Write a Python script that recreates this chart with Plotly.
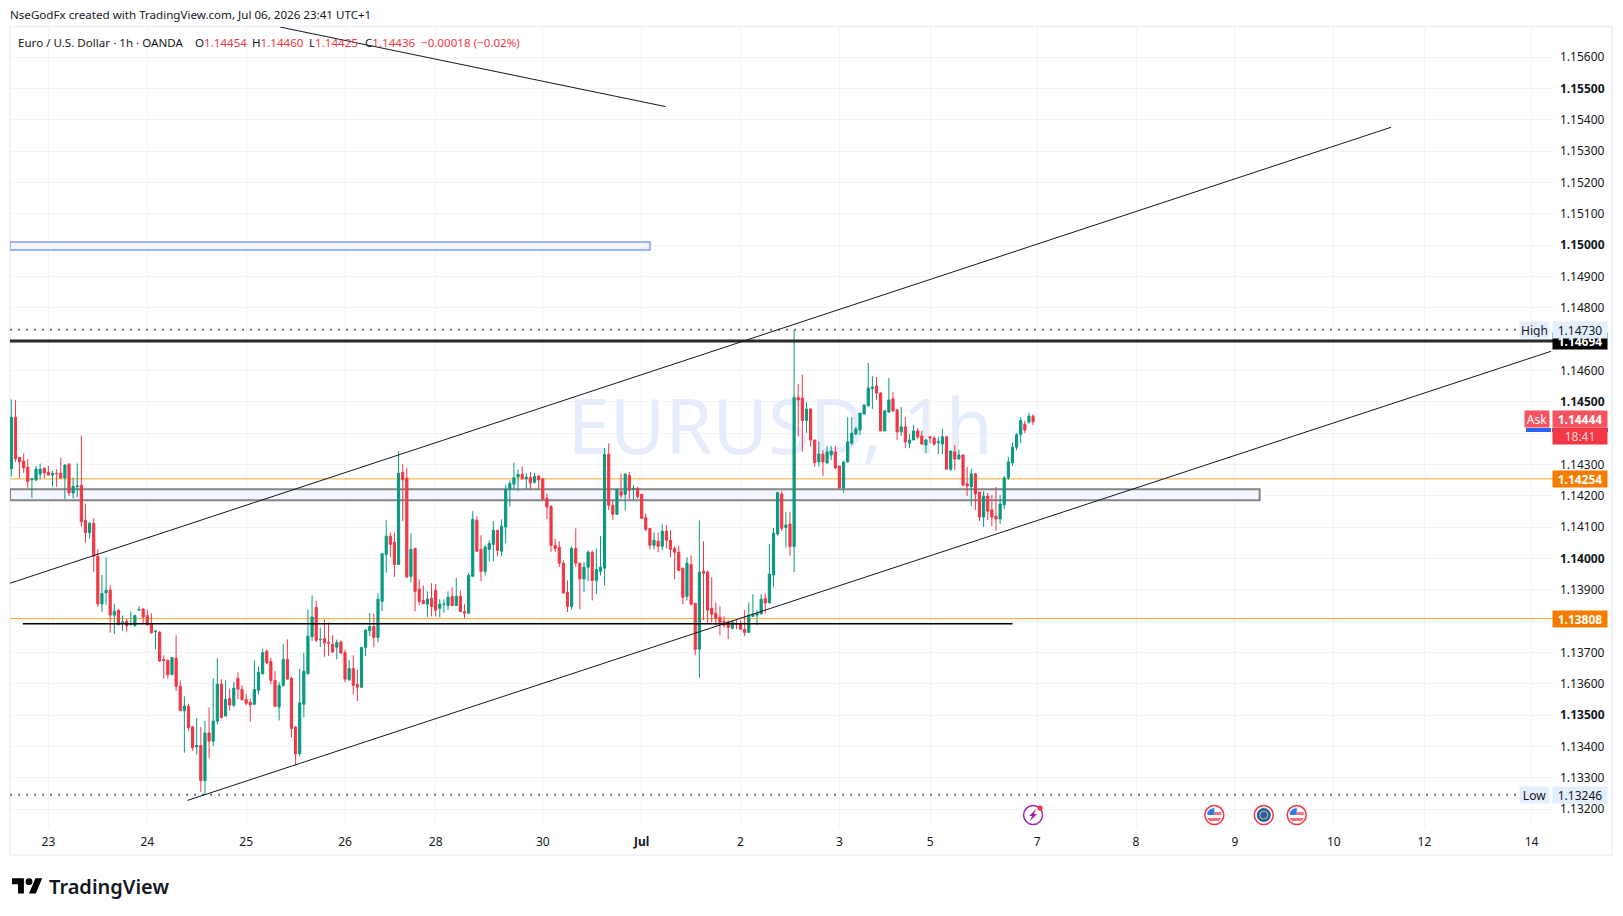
import plotly.graph_objects as go

### DATA (EURUSD 1h, prices in 1e-5 units)
opens = [
    114286,114451,114322,114311,114291,114251,114250,114269,114288,114275,
    114266,114272,114272,114257,114301,114209,114229,114233,114122,114082,
    114112,114007,113855,113890,113899,113819,113835,113794,113799,113789,
    113786,113835,113839,113818,113791,113766,113765,113677,113675,113629,
    113682,113592,113514,113529,113463,113399,113403,113291,113443,113417,
    113481,113599,113497,113553,113532,113617,113582,113550,113541,113535,
    113579,113632,113704,113671,113611,113526,113594,113678,113618,113462,
    113377,113535,113632,113750,113844,113741,113745,113732,113726,113717,
    113733,113700,113613,113649,113598,113589,113716,113769,113783,113748,
    113863,114013,114071,114052,113981,114275,114256,113943,114032,113902,
    113866,113854,113873,113898,113841,113853,113850,113879,113850,113879,
    113831,113825,113943,114122,114029,113959,114029,114045,114090,114023,
    114100,114221,114237,114260,114269,114254,114259,114243,114263,114254,
    114192,114166,114042,114036,113985,113892,113847,114032,113985,113935,
    113972,114020,113930,113959,113969,114332,114170,114141,114214,114205,
    114265,114220,114224,114205,114130,114096,114042,114055,114039,114087,
    114058,114032,114020,113969,113879,113981,113857,113710,113959,113956,
    113841,113825,113812,113799,113796,113777,113793,113790,113774,113764,
    113815,113819,113823,113873,113858,113947,114078,114206,114099,114110,
    114038,114514,114512,114440,114477,114378,114308,114333,114305,114330,
    114340,114295,114225,114308,114368,114397,114410,114461,114487,114542,
    114550,114528,114407,114467,114509,114474,114404,114420,114368,114378,
    114407,114391,114362,114388,114384,114369,114365,114388,114285,114340,
    114317,114330,114238,114229,114270,114212,114132,114199,114155,114135,
    114126,114171,114257,114305,114355,114395,114428,114435,114454,
]
highs = [
    114508,114505,114322,114335,114317,114257,114295,114303,114290,114295,
    114279,114285,114322,114300,114304,114258,114303,114392,114175,114116,
    114128,114029,113947,114003,113915,113856,113838,113818,113809,113831,
    113819,113848,113841,113837,113825,113771,113767,113691,113677,113684,
    113755,113611,113560,113537,113465,113491,113462,113481,113525,113618,
    113682,113615,113611,113585,113606,113637,113596,113567,113553,113675,
    113656,113712,113709,113683,113641,113606,113726,113742,113622,113465,
    113648,113699,113837,113882,113865,113779,113805,113796,113755,113741,
    113739,113709,113677,113691,113645,113717,113774,113826,113824,113889,
    114016,114122,114083,114083,114341,114301,114288,114080,114034,113933,
    113914,113895,113921,113918,113870,113870,113895,113908,113937,113898,
    113854,113953,114151,114134,114074,114042,114058,114119,114090,114125,
    114234,114249,114306,114284,114294,114273,114276,114273,114265,114255,
    114207,114170,114063,114055,113994,113930,114039,114096,113985,113988,
    114026,114026,114032,114071,114352,114367,114186,114223,114271,114271,
    114276,114234,114228,114205,114143,114096,114083,114083,114109,114106,
    114090,114039,114039,113969,114004,114010,113857,114122,114055,113962,
    113940,113860,113847,113815,113803,113803,113803,113803,113835,113860,
    113886,113835,113886,113888,114046,114097,114213,114215,114149,114149,
    114730,114557,114586,114499,114479,114378,114372,114346,114359,114359,
    114359,114295,114312,114451,114451,114420,114464,114490,114624,114582,
    114579,114531,114473,114576,114531,114477,114483,114451,114397,114426,
    114416,114407,114381,114389,114391,114388,114413,114391,114343,114362,
    114346,114333,114292,114286,114273,114212,114215,114209,114202,114228,
    114202,114263,114324,114370,114400,114451,114440,114465,114460,
]
lows = [
    114261,114308,114257,114273,114226,114193,114248,114253,114257,114265,
    114229,114229,114255,114190,114200,114192,114197,114101,114050,114063,
    113957,113846,113830,113852,113763,113759,113787,113769,113766,113787,
    113782,113835,113790,113787,113760,113710,113670,113617,113616,113628,
    113577,113513,113380,113450,113386,113374,113254,113246,113363,113401,
    113470,113490,113497,113514,113526,113551,113548,113532,113478,113532,
    113566,113630,113662,113598,113526,113483,113592,113613,113429,113340,
    113369,113493,113630,113737,113733,113717,113686,113688,113699,113678,
    113695,113605,113609,113566,113545,113587,113688,113752,113716,113733,
    113832,113954,114005,113941,113979,114119,113937,113924,113831,113851,
    113854,113813,113816,113815,113812,113826,113835,113847,113850,113829,
    113809,113825,113943,114021,113927,113946,113991,113991,114007,114007,
    114048,114166,114218,114215,114252,114221,114221,114239,114223,114188,
    114125,114021,114021,113973,113888,113829,113837,113973,113838,113892,
    113927,113866,113886,113946,113914,114154,114122,114141,114192,114154,
    114189,114189,114191,114126,114087,114029,114029,114020,114026,114032,
    114004,113933,113960,113854,113866,113850,113691,113618,113803,113790,
    113796,113787,113755,113779,113742,113774,113774,113773,113752,113764,
    113813,113787,113822,113824,113858,113909,114073,114088,114035,114009,
    113957,114389,114341,114401,114357,114293,114293,114263,114301,114314,
    114285,114222,114210,114306,114362,114394,114394,114458,114484,114477,
    114506,114407,114407,114464,114467,114378,114391,114352,114352,114378,
    114381,114362,114337,114367,114359,114333,114333,114285,114279,114282,
    114317,114231,114199,114167,114155,114119,114100,114123,114103,114088,
    114110,114158,114250,114295,114345,114368,114400,114430,114425,
]
closes = [
    114451,114318,114308,114289,114245,114254,114285,114285,114273,114266,
    114272,114270,114257,114298,114209,114230,114231,114117,114082,114112,
    114007,113855,113888,113899,113819,113831,113789,113797,113785,113792,
    113818,113837,113813,113788,113763,113768,113673,113675,113629,113684,
    113592,113514,113529,113460,113396,113403,113291,113443,113417,113481,
    113599,113492,113550,113532,113586,113583,113549,113538,113533,113582,
    113637,113699,113667,113611,113528,113595,113678,113615,113458,113376,
    113539,113640,113752,113813,113739,113742,113730,113730,113702,113732,
    113698,113615,113649,113595,113589,113716,113771,113783,113748,113870,
    114015,114071,114045,113981,114272,114251,113941,114029,113895,113863,
    113856,113870,113847,113835,113854,113854,113876,113850,113879,113831,
    113825,113946,114125,114023,113959,114036,114048,114090,114026,114103,
    114221,114239,114258,114268,114254,114259,114241,114262,114251,114189,
    114164,114042,114032,113985,113890,113847,114032,113985,113935,113972,
    114020,113930,113965,113972,114332,114170,114141,114220,114202,114269,
    114218,114224,114198,114128,114093,114042,114058,114039,114087,114058,
    114029,114020,113962,113876,113985,113854,113710,113956,113953,113835,
    113822,113809,113796,113787,113780,113796,113790,113774,113764,113819,
    113822,113824,113870,113858,113950,114081,114210,114096,114107,114038,
    114514,114506,114440,114477,114378,114306,114333,114308,114340,114343,
    114289,114225,114308,114372,114400,114413,114464,114490,114544,114547,
    114528,114407,114471,114506,114471,114404,114420,114372,114378,114407,
    114388,114365,114378,114385,114365,114372,114388,114285,114343,114317,
    114330,114234,114231,114270,114206,114132,114199,114151,114132,114126,
    114174,114257,114308,114355,114395,114440,114410,114454,114436,
]

# time axis
date_bars = [9, 33, 57, 81, 103, 129, 153, 177, 201, 223, 249, 273, 297, 321, 343, 369]
date_labels = ["23", "24", "25", "26", "28", "30", "<b>Jul</b>", "2", "3", "5", "7", "8", "9", "10", "12", "14"]

# price axis
price_ticks = [1.132 + i * 0.001 for i in range(25)]
hidden_ticks = ["1.14700", "1.14400", "1.13800"]
bold_ticks = ["1.15500", "1.15000", "1.14500", "1.14000", "1.13500"]

# drawings
high_price, low_price = 1.14730, 1.13246
level_black = 1.14694
level_ask = 1.14444
level_orange = [1.14254, 1.13808]
support_price = 1.13792
support_bars = [2.8, 243]
channel_up_bars, channel_up_prices = [-0.32, 334.9], [1.13921, 1.15376]
channel_low_bars, channel_low_prices = [42.8, 373.7], [1.13228, 1.14661]
top_line_bars, top_line_prices = [65.2, 158.8], [1.15696, 1.15442]
blue_box_bars, blue_box_prices = [-0.32, 155], [1.14984, 1.15010]
grey_box_bars, grey_box_prices = [-0.32, 303], [1.14186, 1.14221]
event_bars_us = [292, 312]
event_bar_eu = 304
event_bar_bolt = 248
event_price = 1.13181

GREEN, RED = "#089981", "#F23645"
ORANGE, TAG_ORANGE = "#FFA726", "#F57C00"
TEXT = "#131722"
GRID = "#F2F3F6"
FONT = "Noto Sans"

# plot box in page pixels
LEFT, RIGHT, TOP, BOTTOM = 10, 1553, 27, 827
X_RANGE = [-0.32, 374.2]
Y_RANGE = [1.13143, 1.15696]


def pts(values):
    return [v / 100000 for v in values]


def px(x):
    return (x - LEFT) / (RIGHT - LEFT)


def py(y):
    return (BOTTOM - y) / (BOTTOM - TOP)


fig = go.Figure()

### BELOW CANDLES (x / y)
fig.add_trace(go.Scatter(x=[186.6], y=[1.14395], mode="text", text=["EURUSD, 1h"],
                         textfont=dict(family=FONT, size=76, color="#E6ECFC"), hoverinfo="skip"))

for bars, prices, line_col, fill_col in [(blue_box_bars, blue_box_prices, "#9DB4FA", "#F3F6FE"),
                                         (grey_box_bars, grey_box_prices, "#858585", "#F3F6FE")]:
    fig.add_trace(go.Scatter(x=[bars[0], bars[1], bars[1], bars[0], bars[0]],
                             y=[prices[0], prices[0], prices[1], prices[1], prices[0]],
                             mode="lines", fill="toself", fillcolor=fill_col,
                             line=dict(color=line_col, width=2), hoverinfo="skip"))

for level in level_orange:
    fig.add_trace(go.Scatter(x=X_RANGE, y=[level, level], mode="lines",
                             line=dict(color=ORANGE, width=1), hoverinfo="skip"))

### CANDLES + LINES ON TOP (x2 / y2)
fig.add_trace(go.Candlestick(x=list(range(len(opens))), open=pts(opens), high=pts(highs), low=pts(lows),
                             close=pts(closes), xaxis="x2", yaxis="y2", whiskerwidth=0,
                             increasing=dict(line=dict(color=GREEN, width=1), fillcolor=GREEN),
                             decreasing=dict(line=dict(color=RED, width=1), fillcolor=RED),
                             hoverinfo="skip"))

for bars, prices, col, width, dash in [
    (X_RANGE, [high_price, high_price], "#6F7380", 2, "2px,6px"),
    (X_RANGE, [low_price, low_price], "#6F7380", 2, "2px,6px"),
    (X_RANGE, [level_black, level_black], "#2A2A2A", 3, "solid"),
    (support_bars, [support_price, support_price], "#000000", 1.5, "solid"),
    (channel_up_bars, channel_up_prices, "#131722", 1, "solid"),
    (channel_low_bars, channel_low_prices, "#131722", 1, "solid"),
    (top_line_bars, top_line_prices, "#131722", 1, "solid"),
]:
    fig.add_trace(go.Scatter(x=bars, y=prices, mode="lines", xaxis="x2", yaxis="y2",
                             line=dict(color=col, width=width, dash=dash), hoverinfo="skip"))


### TEXT
def add_text(x, y, text, size=11.6, color=TEXT, weight=None):
    fig.add_annotation(x=px(x), y=py(y), xref="paper", yref="paper", text=text, showarrow=False,
                       xanchor="left", yanchor="middle",
                       font=dict(family=FONT, size=size, color=color, weight=weight))


add_text(8, 14.5, "NseGodFx created with TradingView.com, Jul 06, 2026 23:41 UTC+1")
add_text(16, 42, "Euro / U.S. Dollar · 1h · OANDA")
for x, key, val in [(193, "O", "1.14454"), (250, "H", "1.14460"), (307, "L", "1.14425"), (363, "C", "1.14436")]:
    add_text(x, 42, f'{key}<span style="color:{RED}">{val}</span>')
add_text(419, 42, "−0.00018 (−0.02%)", color=RED)
add_text(47, 886, "TradingView", 20, "#131722", 600)


### PRICE TAGS
def add_tag(price, text, bg, color="#FFFFFF", right_side=True, width=52, bold=True):
    label = f"<b>{text}</b>" if bold else text
    fig.add_annotation(x=1 - 1 / (RIGHT - LEFT) if right_side else 1 - 3 / (RIGHT - LEFT), y=price,
                       xref="paper", yref="y",
                       text=label, showarrow=False, xanchor="left" if right_side else "right", yanchor="middle",
                       width=width, height=14, bgcolor=bg, borderpad=1, align="center",
                       font=dict(family=FONT, size=12, color=color))


add_tag(level_black, "1.14694", "#000000")
add_tag(high_price, "1.14730", "#E3EFFD", TEXT, bold=False)
add_tag(high_price, "High", "#E3EFFD", TEXT, right_side=False, width=27, bold=False)
add_tag(low_price, "1.13246", "#E3EFFD", TEXT, bold=False)
add_tag(low_price, "Low", "#E3EFFD", TEXT, right_side=False, width=27, bold=False)
for level in level_orange:
    add_tag(level, f"{level:.5f}", TAG_ORANGE)
add_tag(1.14392, "18:41", RED, "#FFD7DA", bold=False)
add_tag(level_ask, "1.14444", "#F7525F")
add_tag(level_ask, "Ask", "#F7525F", right_side=False, width=22, bold=False)

# blue strip under the ask tags
for x0, x1 in [(1526, 1551), (1552, 1608)]:
    fig.add_shape(type="rect", xref="paper", yref="paper", x0=px(x0), x1=px(x1), y0=py(432), y1=py(428),
                  fillcolor="#2962FF", line_width=0, layer="above")

# frame of the widget
fig.add_shape(type="rect", xref="paper", yref="paper", x0=0, x1=px(1612), y0=py(855), y1=py(26.5),
              line=dict(color="#F0F3FA", width=2), layer="below")

# tradingview logo
LOGO_SCALE = 0.85


def logo_xy(u, v):
    return f"{2 + LOGO_SCALE * u:.1f},{-(51.3 + LOGO_SCALE * (v - 4)):.1f}"


logo_polys = [[(0, 4), (14, 4), (14, 22), (7, 22), (7, 11), (0, 11)],
              [(27.5, 4), (35.5, 4), (28, 22), (20, 22)]]
for poly in logo_polys:
    path = "M" + " L".join(logo_xy(u, v) for u, v in poly) + " Z"
    fig.add_shape(type="path", path=path, xref="paper", yref="paper", xsizemode="pixel", ysizemode="pixel",
                  xanchor=0, yanchor=0, fillcolor="#000000", line_width=0)
fig.add_shape(type="circle", xref="paper", yref="paper", xsizemode="pixel", ysizemode="pixel", xanchor=0, yanchor=0,
              x0=2 + LOGO_SCALE * 16, x1=2 + LOGO_SCALE * 24, y0=-(51.3 + LOGO_SCALE * 8), y1=-51.3,
              fillcolor="#000000", line_width=0)


### EVENT ICONS
def icon_circle(bar, r, fill, line_col=None, line_w=0, dx=0, dy=0):
    fig.add_shape(type="circle", xref="x", yref="y", xsizemode="pixel", ysizemode="pixel",
                  xanchor=bar, yanchor=event_price, x0=dx - r, x1=dx + r, y0=dy - r, y1=dy + r,
                  fillcolor=fill, line=dict(color=line_col, width=line_w), layer="above")


def icon_poly(bar, coords, fill):
    path = "M" + " L".join(f"{x},{y}" for x, y in coords) + " Z"
    fig.add_shape(type="path", path=path, xref="x", yref="y", xsizemode="pixel", ysizemode="pixel",
                  xanchor=bar, yanchor=event_price, fillcolor=fill, line_width=0, layer="above")


icon_circle(event_bar_bolt, 9.5, "#FFFFFF", "#9C27B0", 1.5)
icon_poly(event_bar_bolt, [(3, 6), (-4, -1), (-1, -1), (-3, -6), (4, 1), (1, 1)], "#9C27B0")
icon_circle(event_bar_bolt, 2.6, RED, dx=7, dy=7)

for bar in event_bars_us:
    icon_circle(bar, 9.5, "#FFFFFF", RED, 1.5)
    icon_poly(bar, [(-7, -3), (7, -3), (5, -6), (-5, -6)], "#F1707A")
    icon_poly(bar, [(0, 3), (7, 3), (7, 0), (0, 0)], "#F1707A")
    icon_poly(bar, [(-7, 0), (0, 0), (0, 7), (-4, 6), (-7, 3)], "#2F7DEB")

icon_circle(event_bar_eu, 9.5, "#FFFFFF", RED, 1.5)
icon_circle(event_bar_eu, 7, "#1E5FB4")
icon_circle(event_bar_eu, 4, "rgba(0,0,0,0)", "#F2C230", 1)

### LAYOUT
tick_text = []
for p in price_ticks:
    label = f"{p:.5f}"
    if label in hidden_ticks:
        label = ""
    elif label in bold_ticks:
        label = f"<b>{label}</b>"
    tick_text.append(label)

fig.update_layout(
    width=1623, height=916, showlegend=False, hovermode=False, boxgap=0.25,
    paper_bgcolor="#FFFFFF", plot_bgcolor="#FFFFFF",
    margin=dict(l=LEFT, r=1623 - RIGHT, t=TOP, b=916 - BOTTOM, autoexpand=False),
    font=dict(family=FONT, size=12, color=TEXT),
    xaxis=dict(range=X_RANGE, tickvals=date_bars, ticktext=date_labels, showgrid=True, gridcolor=GRID, gridwidth=1,
               ticks="", showline=False, zeroline=False, ticklabelstandoff=6, tickfont=dict(size=12)),
    yaxis=dict(range=Y_RANGE, side="right", tickvals=price_ticks, ticktext=tick_text, showgrid=True, gridcolor=GRID,
               gridwidth=1, ticks="", showline=False, zeroline=False, ticklabelstandoff=6, tickfont=dict(size=12)),
    xaxis2=dict(range=X_RANGE, overlaying="x", visible=False, rangeslider=dict(visible=False)),
    yaxis2=dict(range=Y_RANGE, overlaying="y", visible=False),
)

fig.write_html("out.html", config={"displayModeBar": False}, post_script="document.body.style.margin='0';")
